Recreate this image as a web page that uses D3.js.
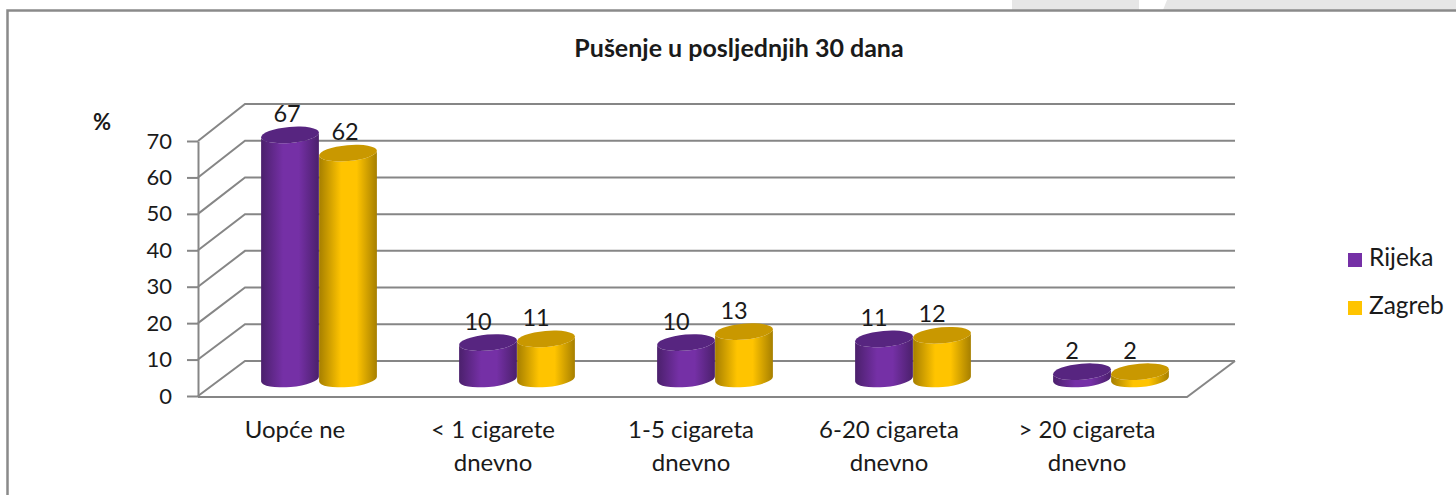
<!DOCTYPE html>
<html lang="en">
<head>
<meta charset="UTF-8">
<script src="https://d3js.org/d3.v7.min.js"></script>
<title>Pušenje u posljednjih 30 dana</title>
<style>
  html, body { margin: 0; padding: 0; background: #fff; overflow: hidden; }
  text { font-family: Lato, "Open Sans", sans-serif; fill: #1a1a1a; }
</style>
</head>
<body>
<div id="draw_here"></div>
<script>
var title = "Pušenje u posljednjih 30 dana";
var categories = ["Uopće ne", "< 1 cigarete dnevno", "1-5 cigareta dnevno", "6-20 cigareta dnevno", "> 20 cigareta dnevno"];
var categoryLines = [["Uopće ne"], ["< 1 cigarete", "dnevno"], ["1-5 cigareta", "dnevno"], ["6-20 cigareta", "dnevno"], ["> 20 cigareta", "dnevno"]];
var seriesNames = ["Rijeka", "Zagreb"];
var rijeka = [67, 10, 10, 11, 2];
var zagreb = [62, 11, 13, 12, 2];
var ticks = [0, 10, 20, 30, 40, 50, 60, 70];

var width = 1456, height = 495;
var purple = { mid: "#7530a6", edge: "#4b206c", top: "#572580" };
var gold = { mid: "#ffc400", edge: "#a67f00", top: "#c99800" };
var colors = [purple, gold];
var gridColor = "#868686";

var svg = d3.select("#draw_here").append("svg")
    .attr("width", width)
    .attr("height", height)
    .style("display", "block");

// gray bits of the page above the frame
var strip = svg.append("g").attr("fill", "#e6e6e6");
strip.append("rect").attr("x", 1012).attr("y", 0).attr("width", 127).attr("height", 10);
strip.append("path").attr("d", "M1163,10L1167,0L1456,0L1456,10Z");

// frame
svg.append("path")
    .attr("d", "M7.5,495L7.5,10.5L1456,10.5")
    .attr("fill", "none")
    .attr("stroke", "#8a8a8a")
    .attr("stroke-width", 2.5);

var front = { left: 198, right: 1187 };
var back = { left: 245, right: 1235 };

var yFront = d3.scaleLinear().domain([0, 70]).range([396, 141]);
var yBack = d3.scaleLinear().domain([0, 70]).range([361, 104]);
var yBar = d3.scaleLinear().domain([0, 70]).range([379, 124]);

var x = d3.scaleBand()
    .domain(d3.range(categories.length))
    .range([220, 1210]);
var xSeries = d3.scaleBand()
    .domain(d3.range(seriesNames.length))
    .range([41, 157]);

// walls and floor
var grid = svg.append("g")
    .attr("fill", "none")
    .attr("stroke", gridColor)
    .attr("stroke-width", 2);

grid.selectAll("path.wall")
    .data(ticks)
    .join("path")
    .attr("class", "wall")
    .attr("d", d => `M${front.left},${yFront(d)}L${back.left},${yBack(d)}L${back.right},${yBack(d)}`);

grid.append("path")
    .attr("d", `M${front.left},${yFront(0) + 1}L${front.right},${yFront(0) + 1}L${back.right},${yBack(0)}`);

// y axis
var yAxis = svg.append("g")
    .attr("transform", `translate(${front.left},0)`)
    .call(d3.axisLeft(yFront).tickValues(ticks).tickSize(11).tickPadding(15).tickSizeOuter(0));
yAxis.selectAll("line, path").attr("stroke", gridColor).attr("stroke-width", 2);
yAxis.selectAll("text").style("font-size", "22px").attr("fill", "#1a1a1a");

var defs = svg.append("defs");
colors.forEach((c, i) => {
    var g = defs.append("linearGradient").attr("id", "cyl" + i);
    g.append("stop").attr("offset", "0%").attr("stop-color", c.edge);
    g.append("stop").attr("offset", "38%").attr("stop-color", c.mid);
    g.append("stop").attr("offset", "65%").attr("stop-color", c.mid);
    g.append("stop").attr("offset", "100%").attr("stop-color", c.edge);
});

// cylinders
var rx = 29, ry = 8, tilt = -5;
var ex = rx * Math.cos(tilt * Math.PI / 180), ey = rx * Math.sin(tilt * Math.PI / 180);

[rijeka, zagreb].forEach((values, s) => {
    var cyl = svg.append("g").selectAll("g")
        .data(values)
        .join("g")
        .attr("transform", (d, i) => `translate(${x(i) + xSeries(s) + xSeries.bandwidth() / 2},0)`);

    cyl.append("path")
        .attr("fill", `url(#cyl${s})`)
        .attr("d", d => {
            var t = yBar(d), b = yBar(0);
            return `M${-ex},${t - ey}L${-ex},${b - ey}A${rx},${ry} ${tilt} 0 0 ${ex},${b + ey}` +
                `L${ex},${t + ey}A${rx},${ry} ${tilt} 0 1 ${-ex},${t - ey}Z`;
        });

    cyl.append("ellipse")
        .attr("rx", rx)
        .attr("ry", ry)
        .attr("fill", colors[s].top)
        .attr("transform", d => `translate(0,${yBar(d)}) rotate(${tilt})`);

    cyl.append("text")
        .attr("x", d => d > 50 ? -3 : -10)
        .attr("y", d => yBar(d) - 13)
        .attr("text-anchor", "middle")
        .style("font-size", "23.5px")
        .text(d => d);
});

// category labels
svg.append("g").selectAll("text")
    .data(categoryLines)
    .join("text")
    .attr("text-anchor", "middle")
    .attr("transform", (d, i) => `translate(${x(i) + x.bandwidth() / 2 - 24},438)`)
    .style("font-size", "24px")
    .selectAll("tspan")
    .data(d => d)
    .join("tspan")
    .attr("x", 0)
    .attr("y", (d, i) => i * 33)
    .text(d => d);

// title and unit
svg.append("text")
    .attr("x", 739)
    .attr("y", 57)
    .attr("text-anchor", "middle")
    .style("font-size", "25px")
    .style("font-weight", 700)
    .text(title);

svg.append("text")
    .attr("x", 102)
    .attr("y", 130)
    .attr("text-anchor", "middle")
    .style("font-size", "22px")
    .style("font-weight", 700)
    .text("%");

// legend
var legend = svg.append("g").selectAll("g")
    .data(seriesNames)
    .join("g")
    .attr("transform", (d, i) => `translate(1348,${253 + i * 48})`);
legend.append("rect")
    .attr("width", 14)
    .attr("height", 14)
    .attr("fill", (d, i) => colors[i].mid);
legend.append("text")
    .attr("x", 21)
    .attr("y", 13)
    .style("font-size", "24.5px")
    .text(d => d);
</script>
</body>
</html>
